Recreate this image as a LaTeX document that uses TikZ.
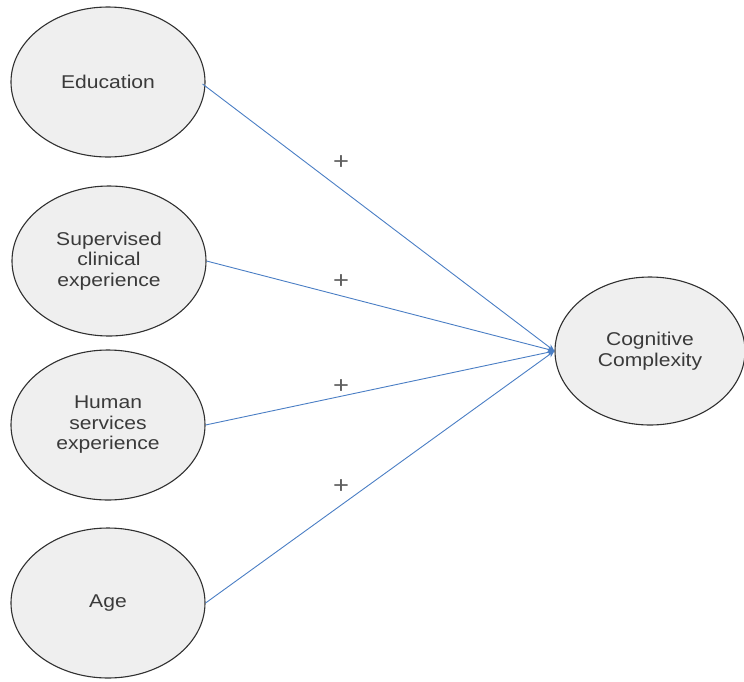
\documentclass[tikz,border=0pt]{standalone}
\usepackage{fontspec}
\setmainfont{Liberation Sans}[FakeStretch=1.14]
\usetikzlibrary{shapes.geometric,arrows.meta}
\definecolor{ellfill}{HTML}{EFEFEF}
\definecolor{ellline}{HTML}{303030}
\definecolor{txt}{HTML}{3A3A3A}
\definecolor{arr}{HTML}{4A7EC4}
\definecolor{plusc}{HTML}{606060}
\begin{document}
\begin{tikzpicture}[x=1pt,y=-1pt,
  var/.style={ellipse,draw=ellline,fill=ellfill,line width=1.1pt,minimum width=194pt,minimum height=150pt,inner sep=0pt,
    text=txt,align=center,font=\fontsize{18.5}{20.5}\selectfont},
  path/.style={draw=arr,line width=0.9pt,-{Stealth[length=7pt,width=6pt]}},
  sign/.style={text=plusc,font=\fontsize{24}{24}\selectfont,inner sep=0pt}]
\useasboundingbox (0,0) rectangle (744,681);
\node[var] (edu) at (108,82) {Education};
\node[var] (sup) at (109,261) {Supervised\\clinical\\experience};
\node[var] (hum) at (108,425) {Human\\services\\experience};
\node[var] (age) at (108,603) {Age};
\node[var,minimum width=190pt,minimum height=148pt] (cog) at (650,351) {Cognitive\\Complexity};
\coordinate (tip) at (cog.west);
\draw[path] (edu.east) ++(-3,2) -- (tip);
\draw[path] (sup.east) -- (tip);
\draw[path] (hum.east) -- (tip);
\draw[path] (age.east) -- (tip);
\node[sign] (p1) at (341,163) {+};
\node[sign] (p2) at (341,282) {+};
\node[sign] (p3) at (341,387) {+};
\node[sign] (p4) at (341,487) {+};
\end{tikzpicture}
\end{document}
